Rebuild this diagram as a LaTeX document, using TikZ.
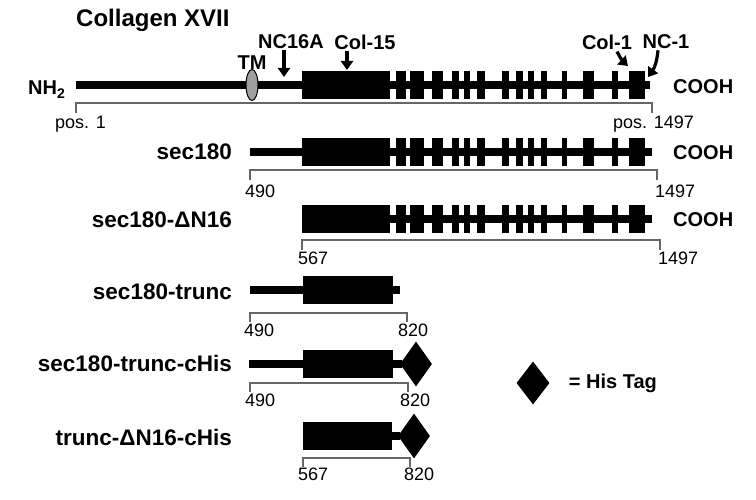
\documentclass[tikz,border=0pt]{standalone}
\usepackage{fontspec}
\setmainfont{Liberation Sans}
\usetikzlibrary{shapes,arrows,arrows.meta,positioning}

% repeated collagenous domains of the C-terminal part
\newcommand{\coldomains}[1]{%
  \foreach \a/\b in {396/406,410/424,432/443,452/459,464/470,477/485,502/509,516/523,528/534,541/547,562/567,583/594,612/618,629/645}
    {\fill ({\a},{#1-14}) rectangle ({\b},{#1+14});}%
}

\begin{document}
\begin{tikzpicture}[x=1pt, y=-1pt,
  lbl/.style={font=\bfseries\fontsize{22.5}{26}\selectfont, anchor=east, inner sep=0pt},
  tag/.style={font=\bfseries\fontsize{20}{24}\selectfont, inner sep=0pt},
  num/.style={font=\fontsize{18}{20}\selectfont, anchor=west, inner sep=0pt},
  bracket/.style={draw=black!60, line width=1.4pt},
  pointer/.style={line width=3.2pt, -{Triangle[width=12pt,length=9pt]}},
  histag/.style={diamond, fill=black, inner sep=0pt, minimum width=32pt, minimum height=45pt},
  tmbox/.style={ellipse, draw, fill=gray!75, line width=1pt, minimum width=12pt, minimum height=31pt, inner sep=0pt}]
\useasboundingbox (0,0) rectangle (756,500);

\node[font=\bfseries\fontsize{24}{28}\selectfont, anchor=base west, inner sep=0pt] (title) at (76,27) {Collagen XVII};

% full length collagen XVII
\fill (76,81.5) rectangle (650,89.5);
\fill (302,71.5) rectangle (390,99.5);
\coldomains{85.5}
\node[tmbox] (tm) at (252,85) {};
\node[tag] (tmlbl) at (252,63) {TM};
\node[tag, anchor=base west] (nh) at (28,95) {NH\textsubscript{2}};
\node[tag, anchor=west] (cooh) at (673,87) {COOH};

\node[tag] (nc16a) at (291,42) {NC16A};
\node[tag] (col15) at (365,42) {Col-15};
\node[tag] (col1) at (607,42) {Col-1};
\node[tag] (nc1) at (666,42) {NC-1};
\coordinate (nc16atip) at (284,77);
\coordinate (col15tip) at (347,70);
\coordinate (col1tip) at (628,66);
\coordinate (nc1tip) at (648,77);
\draw[pointer] ([yshift=-1pt]nc16atip |- nc16a.south) -- (nc16atip);
\draw[pointer] ([yshift=-1pt]col15tip |- col15.south) -- (col15tip);
\draw[pointer] ([xshift=10pt,yshift=-2pt]col1.south) to[bend right=10] (col1tip);
\draw[pointer] ([xshift=-8pt,yshift=-1pt]nc1.south) to[bend left=15] (nc1tip);

\draw[bracket] (76,113) -- (76,103) -- (652,103) -- (652,113);
\node[num] (pos1) at (55,124) {pos. 1};
\node[num] (pos1497) at (613,124) {pos. 1497};

% sec180
\node[lbl] (sec) at (232,152) {sec180};
\fill (250,148) rectangle (652,156);
\fill (302,138) rectangle (390,166);
\coldomains{152}
\node[tag, anchor=west] (coohsec) at (673,153) {COOH};
\draw[bracket] (250,180) -- (250,170) -- (657,170) -- (657,180);
\node[num] (secstart) at (245,191) {490};
\node[num] (secend) at (655,191) {1497};

% sec180-dN16
\node[lbl] (secdn) at (232,220) {sec180-ΔN16};
\fill (302,215) rectangle (652,223);
\fill (302,205) rectangle (390,233);
\coldomains{219}
\node[tag, anchor=west] (coohdn) at (673,220) {COOH};
\draw[bracket] (302,250) -- (302,240) -- (660,240) -- (660,250);
\node[num] (dnstart) at (298,258) {567};
\node[num] (dnend) at (658,258) {1497};

% sec180-trunc
\node[lbl] (trunc) at (232,292) {sec180-trunc};
\fill (250,286) rectangle (400,294);
\fill (303,276) rectangle (393,304);
\draw[bracket] (250,322) -- (250,313) -- (407,313) -- (407,322);
\node[num] (truncstart) at (244,330) {490};
\node[num] (truncend) at (398,330) {820};

% sec180-trunc-cHis
\node[lbl] (trunchis) at (232,363) {sec180-trunc-cHis};
\fill (249,360) rectangle (402,368);
\fill (303,350) rectangle (393,378);
\node[histag] (his5) at (416,364) {};
\draw[bracket] (250,392) -- (250,383) -- (408,383) -- (408,392);
\node[num] (hisstart) at (245,400) {490};
\node[num] (hisend) at (400,400) {820};

% trunc-dN16-cHis
\node[lbl] (dnhis) at (232,437) {trunc-ΔN16-cHis};
\fill (303,432) rectangle (400,440);
\fill (303,422) rectangle (392,450);
\node[histag] (his6) at (414,436) {};
\draw[bracket] (303,467) -- (303,458) -- (410,458) -- (410,467);
\node[num] (dnhisstart) at (298,474) {567};
\node[num] (dnhisend) at (404,474) {820};

% legend
\node[histag, minimum width=33pt, minimum height=43pt] (legtag) at (533,383) {};
\node[tag, right=19pt of legtag] (legtext) {= His Tag};
\end{tikzpicture}
\end{document}
